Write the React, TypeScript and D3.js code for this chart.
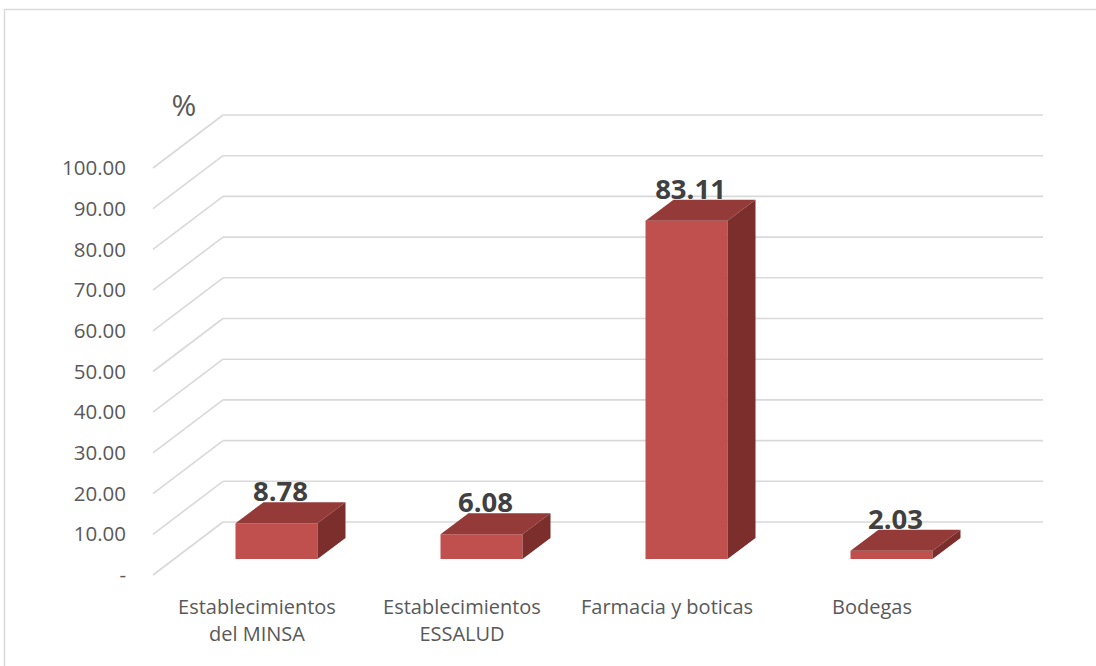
import React from "react";
import * as d3 from "d3";

const categories: string[][] = [
  ["Establecimientos", "del MINSA"],
  ["Establecimientos", "ESSALUD"],
  ["Farmacia y boticas"],
  ["Bodegas"],
];
const values: number[] = [8.78, 6.08, 83.11, 2.03];
const yTicks: number[] = [0, 10, 20, 30, 40, 50, 60, 70, 80, 90, 100];
const yUnit = "%";

const W = 1096;
const H = 666;
const DX = 70; // depth offset of the back wall
const DY = -53;
const F0 = 0.3; // bar front depth fraction
const F1 = 0.7; // bar back depth fraction
const FONT = "'Open Sans', sans-serif";

export default function App() {
  const idx = categories.map((_, i) => String(i));
  const x = d3.scaleBand<string>().domain(idx).range([153, 973]).paddingInner(0).paddingOuter(0);
  const y = d3.scaleLinear().domain([0, 100]).range([575, 168]);
  const bw = x.bandwidth() * 0.4;

  const fmt = (v: number) => (v === 0 ? "-" : d3.format(".2f")(v));

  return (
    <svg width={W} height={H} style={{ position: "absolute", left: 0, top: 0 }}>
      <rect x={0} y={0} width={W} height={H} fill="#ffffff" />
      <rect x={4.5} y={9.5} width={W + 10} height={H + 10} fill="none" stroke="#D9D9D9" strokeWidth={1.5} />
      {/* gridlines */}
      {yTicks.map((t) => {
        const yf = y(t);
        const x0 = x.range()[0];
        const x1 = x.range()[1];
        return (
          <g key={t}>
            <line x1={x0} y1={yf} x2={x0 + DX} y2={yf + DY} stroke="#D9D9D9" strokeWidth={1.6} />
            <line x1={x0 + DX} y1={yf + DY} x2={x1 + DX} y2={yf + DY} stroke="#D9D9D9" strokeWidth={1.6} />
            <text
              x={126}
              y={yf}
              dy="0.35em"
              textAnchor="end"
              fontFamily={FONT}
              fontSize={20.5}
              fill="#595959"
            >
              {fmt(t)}
            </text>
          </g>
        );
      })}
      <text x={184} y={105} dy="0.35em" textAnchor="middle" fontFamily={FONT} fontSize={30} fill="#595959">
        {yUnit}
      </text>
      {/* bars */}
      {values.map((v, i) => {
        const bx = (x(String(i)) as number) + (x.bandwidth() - bw) / 2;
        const ox = F0 * DX;
        const oy = F0 * DY;
        const dx = (F1 - F0) * DX;
        const dy = (F1 - F0) * DY;
        const left = bx + ox;
        const right = left + bw;
        const bottom = y(0) + oy;
        const top = y(v) + oy;
        const front = `M${left},${bottom}L${right},${bottom}L${right},${top}L${left},${top}Z`;
        const topFace = `M${left},${top}L${right},${top}L${right + dx},${top + dy}L${left + dx},${top + dy}Z`;
        const side = `M${right},${bottom}L${right + dx},${bottom + dy}L${right + dx},${top + dy}L${right},${top}Z`;
        return (
          <g key={i}>
            <path d={front} fill="#C0504D" />
            <path d={topFace} fill="#943B39" />
            <path d={side} fill="#7B2E2C" />
            <text
              x={(left + right) / 2 + 4}
              y={top + dy - 1}
              textAnchor="middle"
              fontFamily={FONT}
              fontWeight="bold"
              fontSize={27.5}
              fill="#404040"
            >
              {d3.format(".2f")(v)}
            </text>
          </g>
        );
      })}
      {/* category labels */}
      {categories.map((lines, i) => {
        const cx = (x(String(i)) as number) + x.bandwidth() / 2 + 1.5;
        return (
          <text key={i} textAnchor="middle" fontFamily={FONT} fontSize={20} fill="#595959">
            {lines.map((l, j) => (
              <tspan key={j} x={cx} y={614 + j * 27}>
                {l}
              </tspan>
            ))}
          </text>
        );
      })}
    </svg>
  );
}
